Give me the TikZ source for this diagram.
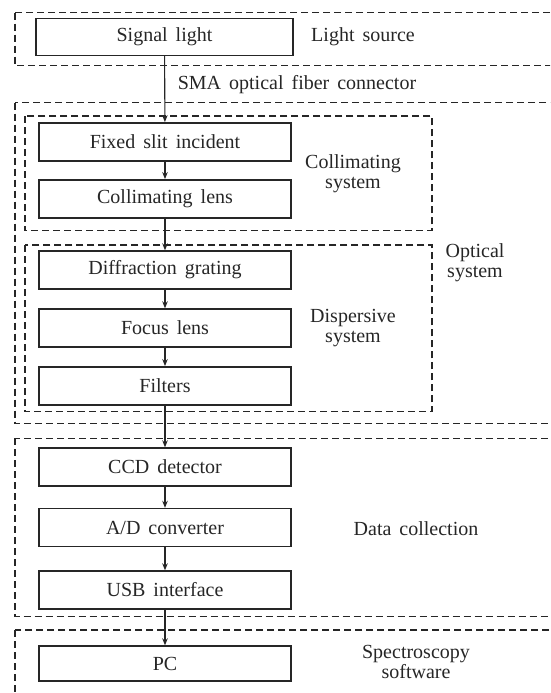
\documentclass[tikz,border=0pt]{standalone}
\usepackage{fontspec}
\setmainfont{Liberation Serif}[WordSpace=1.6]
\usetikzlibrary{arrows.meta}
\begin{document}
\begin{tikzpicture}[x=1pt,y=-1pt,
    caixa/.style={draw=black!85,line width=1.4pt,minimum width=252pt,minimum height=38pt,inner sep=0pt,font=\fontsize{20}{21}\selectfont,text=black!85},
    bloco/.style={draw=black!85,line width=1.1pt,dash pattern=on 7pt off 4pt},
    rotulo/.style={align=center,font=\fontsize{20}{20}\selectfont,text=black!85},
    seta/.style={draw=black!85,line width=1.1pt,-{Stealth[length=7pt,width=5.5pt]}}]
    \useasboundingbox (0,0) rectangle (550,693);
    \clip (0,0) rectangle (550,693);

    % Blocos tracejados
    \draw[bloco] (15,12.7) rectangle (565,65.7);
    \draw[bloco] (15,102.7) rectangle (565,423.3);
    \draw[bloco] (25,116) rectangle (432,230.7);
    \draw[bloco] (25,245) rectangle (432,411.7);
    \draw[bloco] (15,438.3) rectangle (565,616.7);
    \draw[bloco] (15,630) rectangle (565,710);

    % Caixas
    \node[caixa,minimum width=257pt,minimum height=37pt] (sinal) at (164.5,37) {Signal light};
    \node[caixa] (fenda) at (165,141.8) {Fixed slit incident};
    \node[caixa] (colim) at (165,198.8) {Collimating lens};
    \node[caixa] (grade) at (165,270) {Diffraction grating};
    \node[caixa] (foco) at (165,328) {Focus lens};
    \node[caixa] (filtro) at (165,385.8) {Filters};
    \node[caixa] (ccd) at (165,467) {CCD detector};
    \node[caixa] (ad) at (165,527.5) {A/D converter};
    \node[caixa] (usb) at (165,590) {USB interface};
    \node[caixa,minimum height=35pt] (pc) at (165,663.5) {PC};

    % Rotulos
    \node[rotulo] (fonte) at (363,37) {Light source};
    \node[rotulo] (sma) at (297,85) {SMA optical fiber connector};
    \node[rotulo] (scolim) at (353,174) {Collimating\\system};
    \node[rotulo] (sdisp) at (353,328) {Dispersive\\system};
    \node[rotulo] (sopt) at (475,263) {Optical\\system};
    \node[rotulo] (dados) at (416,529) {Data collection};
    \node[rotulo] (soft) at (416,662) {Spectroscopy\\software};

    % Setas
    \draw[seta] (sinal) -- (fenda);
    \draw[seta] (fenda) -- (colim);
    \draw[seta] (colim) -- (grade);
    \draw[seta] (grade) -- (foco);
    \draw[seta] (foco) -- (filtro);
    \draw[seta] (filtro) -- (ccd);
    \draw[seta] (ccd) -- (ad);
    \draw[seta] (ad) -- (usb);
    \draw[seta] (usb) -- (pc);
\end{tikzpicture}
\end{document}
